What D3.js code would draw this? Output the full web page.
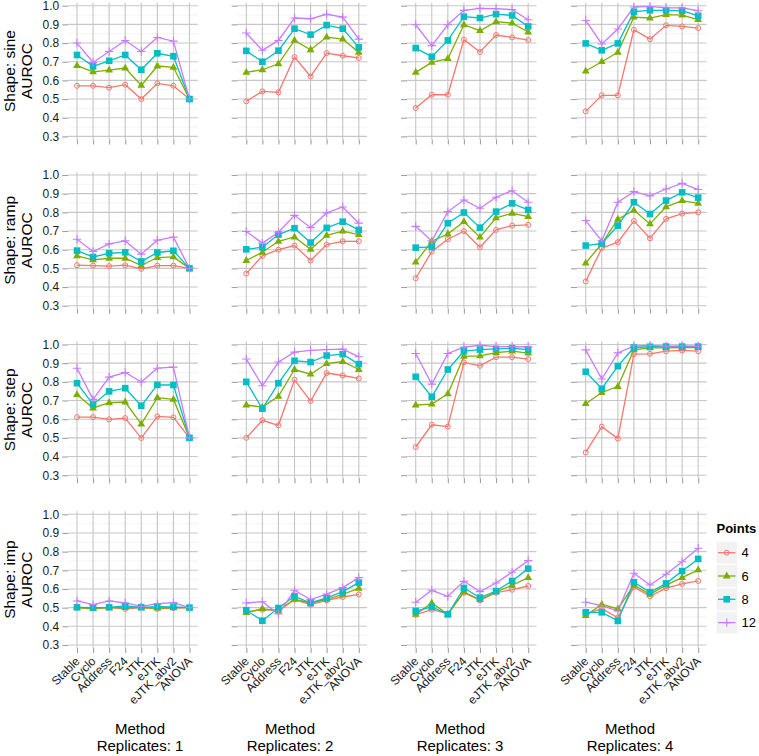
<!DOCTYPE html>
<html><head><meta charset="utf-8">
<script src="https://cdn.jsdelivr.net/npm/d3@7"></script>
<style>
body{margin:0;background:#fff}
svg{display:block}
text{font-family:"Liberation Sans",Arial,Helvetica,sans-serif}
</style>
</head><body>
<svg id="chart" width="759" height="756"></svg>
<script>
// ---------- data ----------
const methods = ["Stable","Cyclo","Address","F24","JTK","eJTK","eJTK_abv2","ANOVA"];
const pointLevels = ["4","6","8","12"];
const shapeNames = ["sine","ramp","step","imp"];
const replicateLabels = ["1","2","3","4"];
const yTicks = [0.3,0.4,0.5,0.6,0.7,0.8,0.9,1.0];
const yMinor = [0.35,0.45,0.55,0.65,0.75,0.85,0.95];
const colors = ["#F8766D","#7CAE00","#00BFC4","#C77CFF"];

// each array: rows = Points 4, 6, 8, 12 ; columns = methods
const sine_rep1 = [
 [0.571,0.571,0.561,0.577,0.500,0.584,0.571,0.500],
 [0.679,0.646,0.655,0.666,0.573,0.677,0.670,0.500],
 [0.736,0.675,0.705,0.736,0.657,0.745,0.729,0.500],
 [0.800,0.696,0.755,0.814,0.755,0.830,0.810,0.500]];
const sine_rep2 = [
 [0.488,0.541,0.536,0.725,0.621,0.746,0.732,0.720],
 [0.643,0.657,0.689,0.814,0.764,0.832,0.821,0.750],
 [0.758,0.700,0.759,0.877,0.845,0.896,0.877,0.777],
 [0.854,0.761,0.814,0.934,0.930,0.954,0.939,0.821]];
const sine_rep3 = [
 [0.452,0.523,0.523,0.818,0.752,0.843,0.830,0.816],
 [0.643,0.696,0.716,0.898,0.866,0.914,0.907,0.859],
 [0.773,0.727,0.814,0.941,0.934,0.955,0.948,0.889],
 [0.898,0.786,0.898,0.975,0.986,0.984,0.979,0.925]];
const sine_rep4 = [
 [0.434,0.520,0.520,0.871,0.821,0.895,0.889,0.880],
 [0.650,0.700,0.750,0.939,0.934,0.952,0.950,0.925],
 [0.798,0.761,0.798,0.968,0.975,0.975,0.973,0.946],
 [0.921,0.795,0.875,0.993,0.996,0.989,0.988,0.973]];
const ramp_rep1 = [
 [0.517,0.515,0.512,0.517,0.497,0.515,0.515,0.500],
 [0.567,0.545,0.554,0.554,0.515,0.558,0.561,0.500],
 [0.595,0.561,0.581,0.586,0.537,0.585,0.594,0.500],
 [0.656,0.590,0.631,0.647,0.576,0.651,0.667,0.500]];
const ramp_rep2 = [
 [0.472,0.567,0.600,0.622,0.542,0.627,0.645,0.645],
 [0.542,0.586,0.645,0.668,0.602,0.677,0.699,0.681],
 [0.602,0.613,0.681,0.715,0.638,0.717,0.750,0.706],
 [0.697,0.635,0.693,0.784,0.718,0.797,0.829,0.742]];
const ramp_rep3 = [
 [0.447,0.590,0.656,0.699,0.613,0.706,0.729,0.733],
 [0.533,0.645,0.684,0.750,0.667,0.770,0.795,0.777],
 [0.611,0.615,0.742,0.799,0.718,0.804,0.848,0.813],
 [0.725,0.647,0.804,0.866,0.822,0.881,0.916,0.854]];
const ramp_rep4 = [
 [0.430,0.608,0.640,0.754,0.661,0.765,0.793,0.800],
 [0.528,0.633,0.763,0.811,0.738,0.829,0.863,0.848],
 [0.622,0.633,0.729,0.854,0.791,0.863,0.907,0.879],
 [0.756,0.647,0.854,0.911,0.888,0.925,0.955,0.922]];
const step_rep1 = [
 [0.611,0.611,0.599,0.606,0.499,0.615,0.610,0.500],
 [0.731,0.660,0.688,0.692,0.574,0.715,0.706,0.500],
 [0.793,0.679,0.749,0.766,0.672,0.784,0.783,0.500],
 [0.873,0.706,0.825,0.850,0.799,0.873,0.879,0.500]];
const step_rep2 = [
 [0.500,0.594,0.567,0.811,0.697,0.847,0.834,0.818],
 [0.676,0.665,0.722,0.866,0.841,0.898,0.909,0.866],
 [0.800,0.656,0.793,0.913,0.906,0.941,0.948,0.895],
 [0.922,0.779,0.906,0.959,0.968,0.973,0.975,0.934]];
const step_rep3 = [
 [0.451,0.570,0.560,0.904,0.886,0.932,0.932,0.922],
 [0.676,0.681,0.736,0.936,0.939,0.957,0.964,0.954],
 [0.827,0.720,0.866,0.964,0.973,0.977,0.980,0.973],
 [0.952,0.788,0.952,0.986,0.996,0.989,0.988,0.988]];
const step_rep4 = [
 [0.422,0.560,0.496,0.948,0.950,0.964,0.968,0.964],
 [0.683,0.743,0.775,0.971,0.982,0.982,0.984,0.984],
 [0.854,0.763,0.884,0.984,0.988,0.989,0.989,0.989],
 [0.971,0.815,0.955,0.993,0.995,0.991,0.993,0.991]];
const imp_rep1 = [
 [0.500,0.496,0.500,0.493,0.500,0.493,0.498,0.500],
 [0.500,0.495,0.500,0.500,0.500,0.498,0.500,0.500],
 [0.502,0.500,0.502,0.509,0.502,0.505,0.504,0.500],
 [0.536,0.516,0.536,0.525,0.507,0.521,0.527,0.500]];
const imp_rep2 = [
 [0.477,0.489,0.486,0.543,0.516,0.539,0.557,0.571],
 [0.473,0.495,0.482,0.545,0.525,0.545,0.571,0.604],
 [0.486,0.430,0.498,0.561,0.525,0.552,0.586,0.634],
 [0.525,0.532,0.466,0.593,0.543,0.573,0.607,0.661]];
const imp_rep3 = [
 [0.462,0.489,0.468,0.580,0.539,0.580,0.596,0.616],
 [0.464,0.525,0.464,0.584,0.543,0.584,0.620,0.661],
 [0.482,0.504,0.464,0.605,0.554,0.589,0.643,0.709],
 [0.529,0.593,0.561,0.641,0.586,0.632,0.690,0.752]];
const imp_rep4 = [
 [0.464,0.496,0.446,0.611,0.561,0.604,0.627,0.643],
 [0.457,0.518,0.493,0.621,0.571,0.621,0.661,0.702],
 [0.475,0.475,0.429,0.636,0.582,0.630,0.696,0.761],
 [0.529,0.511,0.482,0.684,0.621,0.679,0.746,0.818]];

const panels = {
  sine:[sine_rep1,sine_rep2,sine_rep3,sine_rep4],
  ramp:[ramp_rep1,ramp_rep2,ramp_rep3,ramp_rep4],
  step:[step_rep1,step_rep2,step_rep3,step_rep4],
  imp:[imp_rep1,imp_rep2,imp_rep3,imp_rep4]
};

// ---------- layout ----------
const svg = d3.select("#chart");
const colLeft = [68.3, 237.6, 407.0, 577.0];
const panelW = 129.5;
const rowTop1 = [5.7, 175.0, 344.5, 514.3]; // y of 1.0
const unit = 186.7; // px per 1.0 AUROC
const bottomTitleX = [140, 290, 460, 630];

function drawMarker(g, k, x, y, c) {
  if (k === 0) {
    g.append("circle").attr("cx", x).attr("cy", y).attr("r", 2.5)
      .attr("fill", "none").attr("stroke", c).attr("stroke-width", 1);
  } else if (k === 1) {
    const s = 3.9;
    g.append("path").attr("d", `M${x},${y-4.4}L${x+s},${y+2.4}L${x-s},${y+2.4}Z`).attr("fill", c);
  } else if (k === 2) {
    g.append("rect").attr("x", x-3.3).attr("y", y-3.3).attr("width", 6.6).attr("height", 6.6).attr("fill", c);
  } else {
    g.append("path").attr("d", `M${x-4.2},${y}H${x+4.2}M${x},${y-4.2}V${y+4.2}`)
      .attr("stroke", c).attr("stroke-width", 1.1).attr("fill", "none");
  }
}

shapeNames.forEach((shape, r) => {
  const y1 = rowTop1[r];
  const y = d3.scaleLinear().domain([0.3, 1.0]).range([y1 + 0.7*unit, y1]);
  const top = y(1.016), bottom = y(0.284);

  replicateLabels.forEach((rep, c) => {
    const left = colLeft[c];
    const x = d3.scalePoint().domain(methods).range([left + 8.7, left + 8.7 + 7*16.07]);
    const g = svg.append("g");

    g.append("rect").attr("x", left).attr("y", top).attr("width", panelW).attr("height", bottom - top).attr("fill", "#fff");
    g.selectAll(".mn").data(yMinor).enter().append("line")
      .attr("x1", left).attr("x2", left + panelW)
      .attr("y1", d => y(d)).attr("y2", d => y(d))
      .attr("stroke", "#EDEDED").attr("stroke-width", 0.6);
    g.selectAll(".mj").data(yTicks).enter().append("line")
      .attr("x1", left).attr("x2", left + panelW)
      .attr("y1", d => y(d)).attr("y2", d => y(d))
      .attr("stroke", "#C6C6C6").attr("stroke-width", 1.1);
    g.selectAll(".vx").data(methods).enter().append("line")
      .attr("x1", d => x(d)).attr("x2", d => x(d))
      .attr("y1", top).attr("y2", bottom)
      .attr("stroke", "#C6C6C6").attr("stroke-width", 1.1);

    const ya = d3.axisLeft(y).tickValues(yTicks).tickSize(6).tickPadding(3)
      .tickFormat(c === 0 ? d3.format(".1f") : () => "");
    const yg = g.append("g").attr("transform", `translate(${left},0)`).call(ya);
    yg.select(".domain").remove();
    yg.selectAll(".tick line").attr("stroke", "#A0A0A0").attr("stroke-width", 1.1);
    yg.selectAll(".tick text").attr("font-size", 12).attr("fill", "#1a1a1a")
      .attr("font-family", '"Liberation Sans",Arial,sans-serif');

    const xa = d3.axisBottom(x).tickSize(5).tickFormat(r === 3 ? (d => d) : () => "");
    const xg = g.append("g").attr("transform", `translate(0,${bottom})`).call(xa);
    xg.select(".domain").remove();
    xg.selectAll(".tick line").attr("stroke", "#A0A0A0").attr("stroke-width", 1.1);
    xg.selectAll(".tick text").attr("font-size", 12).attr("fill", "#1a1a1a")
      .attr("font-family", '"Liberation Sans",Arial,sans-serif')
      .attr("text-anchor", "end")
      .attr("dy", null).attr("y", null)
      .attr("transform", "translate(3,14) rotate(-45)");

    const data = panels[shape][c];
    const line = d3.line().x((d, i) => x(methods[i])).y(d => y(d));
    data.forEach((vals, k) => {
      g.append("path").attr("d", line(vals)).attr("fill", "none")
        .attr("stroke", colors[k]).attr("stroke-width", 1.3);
    });
    data.forEach((vals, k) => {
      vals.forEach((v, i) => drawMarker(g, k, x(methods[i]), y(v), colors[k]));
    });
  });

  const cy = (top + bottom) / 2;
  const t = svg.append("text").attr("transform", `translate(0,${cy}) rotate(-90)`)
    .attr("text-anchor", "middle").attr("font-size", 15.5).attr("fill", "#000");
  t.append("tspan").attr("x", 0).attr("y", 14.5).text("Shape: " + shape);
  t.append("tspan").attr("x", 0).attr("y", 31.5).text("AUROC");
});

replicateLabels.forEach((rep, c) => {
  svg.append("text").attr("x", bottomTitleX[c]).attr("y", 733.5).attr("text-anchor", "middle")
    .attr("font-size", 15).text("Method");
  svg.append("text").attr("x", bottomTitleX[c]).attr("y", 750.8).attr("text-anchor", "middle")
    .attr("font-size", 15).text("Replicates: " + rep);
});

const lg = svg.append("g");
lg.append("text").attr("x", 716.5).attr("y", 533.3).attr("font-size", 13).attr("font-weight", "bold").text("Points");
pointLevels.forEach((p, k) => {
  const ky = 541.7 + k * 23.3;
  lg.append("rect").attr("x", 716.5).attr("y", ky).attr("width", 20.5).attr("height", 22).attr("fill", "#F2F2F2");
  lg.append("line").attr("x1", 718).attr("x2", 735.5).attr("y1", ky + 11).attr("y2", ky + 11)
    .attr("stroke", colors[k]).attr("stroke-width", 1.3);
  drawMarker(lg, k, 726.75, ky + 11, colors[k]);
  lg.append("text").attr("x", 741.5).attr("y", ky + 11).attr("dy", "0.36em").attr("font-size", 13).text(p);
});
</script>
</body></html>
